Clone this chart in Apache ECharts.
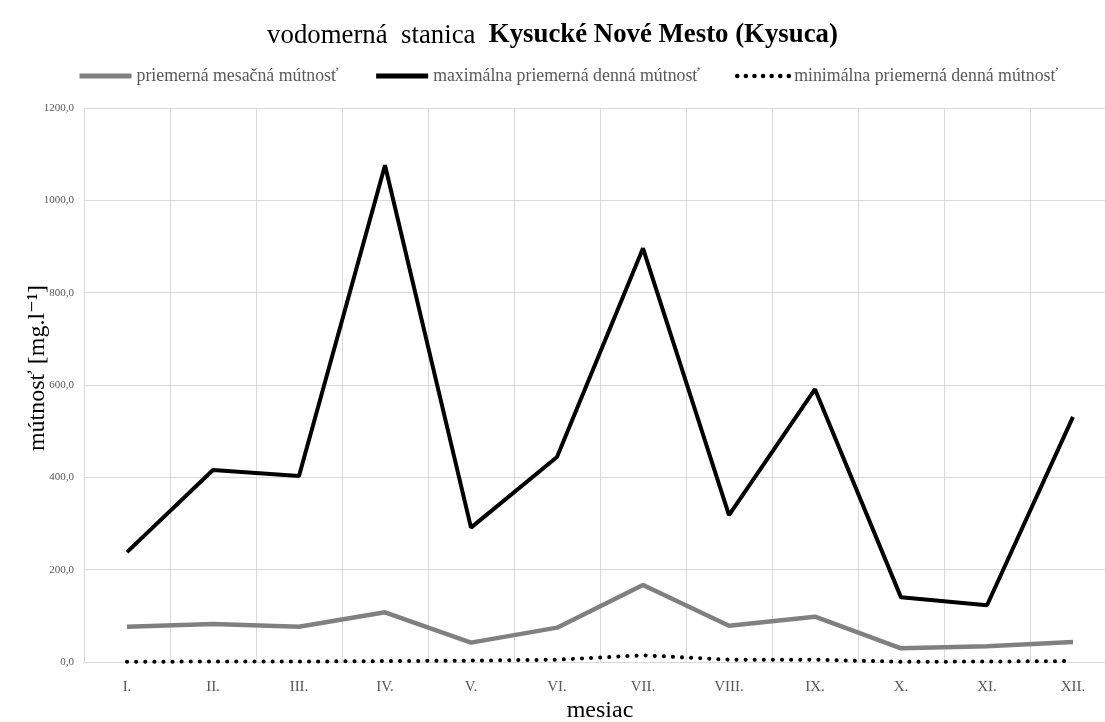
<!DOCTYPE html>
<html>
<head>
<meta charset="utf-8">
<script src="https://cdn.jsdelivr.net/npm/echarts@6/dist/echarts.min.js"></script>
<style>
  html, body { margin: 0; padding: 0; background: #fff; overflow: hidden; }
  #chart { width: 1105px; height: 722px; }
</style>
</head>
<body>
<div id="chart"></div>
<script>
const months = ['I.', 'II.', 'III.', 'IV.', 'V.', 'VI.', 'VII.', 'VIII.', 'IX.', 'X.', 'XI.', 'XII.'];
const meanMonthly = [76.5, 82.3, 76.5, 107.6, 42, 74.4, 166.8, 78.7, 98.2, 29.6, 34, 43.3];
const maxDaily = [238, 416, 403, 1076, 291, 444, 896, 318, 591, 140, 123, 531];
const minDaily = [0.5, 1, 1, 2, 3, 5, 14.5, 5, 5, 0.5, 1, 2];
const yTicks = { min: 0, max: 1200, step: 200 };

const serif = '"Liberation Serif", "DejaVu Serif", serif';
const labelGrey = '#595959';
const gridGrey = '#d9d9d9';

const chart = echarts.init(document.getElementById('chart'));

const option = {
  animation: false,
  textStyle: { fontFamily: serif },
  title: {
    left: 'center',
    top: 17,
    text: '{n|vodomerná  stanica  }{b|Kysucké Nové Mesto (Kysuca)}',
    textStyle: {
      fontWeight: 'normal',
      rich: {
        n: { fontFamily: serif, fontSize: 26.8, fontWeight: 'normal', color: '#000' },
        b: { fontFamily: serif, fontSize: 26.8, fontWeight: 'bold', color: '#000' },
      },
    },
  },
  legend: {
    top: 62,
    left: 72,
    itemWidth: 52,
    itemHeight: 10,
    itemGap: 35,
    itemStyle: { opacity: 0 },
    textStyle: { fontFamily: serif, fontSize: 17.8, color: labelGrey },
    data: [
      { name: 'priemerná mesačná mútnosť', lineStyle: { width: 5 } },
      { name: 'maximálna priemerná denná mútnosť', lineStyle: { width: 5 } },
      { name: 'minimálna priemerná denná mútnosť', lineStyle: { width: 4.5, type: [0.1, 8.5], cap: 'round' } },
    ],
  },
  grid: {
    left: 84,
    right: -11,
    top: 108,
    bottom: 60,
    containLabel: false,
    outerBoundsMode: 'none',
  },
  xAxis: {
    type: 'category',
    data: months,
    boundaryGap: true,
    name: 'mesiac',
    nameLocation: 'middle',
    nameGap: 37,
    nameMoveOverlap: false,
    nameTextStyle: { fontFamily: serif, fontSize: 24, color: '#000' },
    axisLine: { lineStyle: { color: gridGrey, width: 1 } },
    axisTick: { show: false },
    axisLabel: { fontFamily: serif, fontSize: 15, color: labelGrey, margin: 18 },
    splitLine: { show: true, lineStyle: { color: gridGrey, width: 1 } },
  },
  yAxis: {
    type: 'value',
    min: yTicks.min,
    max: yTicks.max,
    interval: yTicks.step,
    name: 'mútnosť [mg.l⁻¹]',
    nameLocation: 'middle',
    nameGap: 34,
    nameMoveOverlap: false,
    nameTextStyle: { fontFamily: serif, fontSize: 24, color: '#000', padding: [0, 0, 0, 34] },
    axisLine: { show: false },
    axisTick: { show: false },
    axisLabel: {
      fontFamily: serif,
      fontSize: 11,
      color: labelGrey,
      margin: 10,
      formatter: (v) => v.toFixed(1).replace('.', ','),
    },
    splitLine: { lineStyle: { color: gridGrey, width: 1 } },
  },
  series: [
    {
      name: 'priemerná mesačná mútnosť',
      type: 'line',
      data: meanMonthly,
      symbol: 'none',
      color: '#808080',
      lineStyle: { color: '#808080', width: 4.5 },
      z: 3,
    },
    {
      name: 'maximálna priemerná denná mútnosť',
      type: 'line',
      data: maxDaily,
      symbol: 'none',
      color: '#000',
      lineStyle: { color: '#000', width: 4 },
      z: 4,
    },
    {
      name: 'minimálna priemerná denná mútnosť',
      type: 'line',
      data: minDaily,
      symbol: 'none',
      color: '#000',
      lineStyle: { color: '#000', width: 4, type: [0.1, 9], cap: 'round' },
      z: 5,
    },
  ],
};

chart.setOption(option);
</script>
</body>
</html>
